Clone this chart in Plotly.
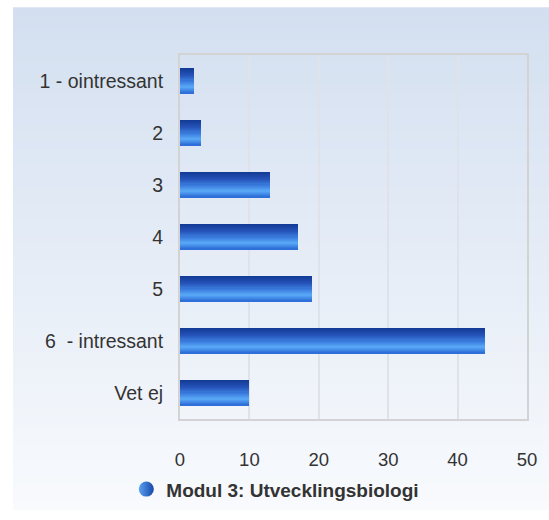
import plotly.graph_objects as go

categories = ["1 - ointressant", "2", "3", "4", "5", "6\u00a0 - intressant", "Vet ej"]
values = [2, 3, 13, 17, 19, 44, 10]
series_name = "Modul 3: Utvecklingsbiologi"
x_ticks = [0, 10, 20, 30, 40, 50]

FONT = "Liberation Sans, Arial, Helvetica, sans-serif"
TEXT = "#333333"


def hex2rgb(h):
    h = h.lstrip("#")
    return tuple(int(h[i:i + 2], 16) for i in (0, 2, 4))


def interp(stops, t):
    for (t0, c0), (t1, c1) in zip(stops, stops[1:]):
        if t0 <= t <= t1:
            f = 0 if t1 == t0 else (t - t0) / (t1 - t0)
            a, b = hex2rgb(c0), hex2rgb(c1)
            return "rgb(%d,%d,%d)" % tuple(round(a[k] + (b[k] - a[k]) * f) for k in range(3))
    return stops[-1][1]


bar_stops = [(0.0, "#123a94"), (0.3, "#2552b8"), (0.55, "#3d82e2"),
             (0.75, "#5aaaf8"), (1.0, "#2a6ad6")]

fig = go.Figure()

w = 0.47
N = 24
# white outline base
fig.add_trace(go.Bar(
    x=values, y=categories, orientation="h", width=w + 0.035,
    marker=dict(color="white", line=dict(width=0), cornerradius=4),
    showlegend=False, hoverinfo="skip"))
for i in range(N):
    t = (i + 0.5) / N
    fig.add_trace(go.Bar(
        x=values, y=categories, orientation="h",
        offset=-w / 2 + i * w / N, width=w / N * 1.05,
        marker=dict(color=interp(bar_stops, t), line=dict(width=0)),
        showlegend=False, hoverinfo="skip"))

# legend entry
fig.add_trace(go.Scatter(
    x=[None], y=[None], mode="markers", name=series_name,
    marker=dict(symbol="circle", size=15, color="#5aa2f2",
                gradient=dict(type="horizontal", color="#1646a8"),
                line=dict(width=0))))

FW, FH = 549, 520
L, R, T, B = 180, 529, 55, 428
W, H = R - L, B - T
bg_stops = [(0.0, "#d3dff0"), (1.0, "#f8fafd")]
top_px, bot_px = 6, 520
n_bg = 64
shapes = []
for k in range(n_bg):
    y0 = top_px + (bot_px - top_px) * k / n_bg
    y1 = top_px + (bot_px - top_px) * (k + 1) / n_bg + 1
    shapes.append(dict(
        type="rect", xref="paper", yref="paper", layer="below",
        x0=(12 - L) / W, x1=(FW + 10 - L) / W,
        y0=(B - min(y1, bot_px + 5)) / H, y1=(B - y0) / H,
        fillcolor=interp(bg_stops, (k + 0.5) / n_bg), line=dict(width=0)))

fig.update_layout(
    width=FW, height=FH,
    margin=dict(l=L, r=FW - R, t=T, b=FH - B),
    paper_bgcolor="white", plot_bgcolor="rgba(0,0,0,0)",
    barmode="overlay", bargap=0,
    shapes=shapes,
    font=dict(family=FONT, color=TEXT, size=19.5),
    showlegend=True,
    legend=dict(orientation="h", x=(126 - L) / W, xanchor="left",
                y=(B - 500) / H, yanchor="middle",
                font=dict(size=19, color=TEXT, weight="bold"),
                bgcolor="rgba(0,0,0,0)"),
    xaxis=dict(range=[0, 50], tickvals=x_ticks, showgrid=True,
               gridcolor="#dfe2e8", gridwidth=1.5, zeroline=False,
               showline=True, linecolor="#d3d3d3", linewidth=2, mirror=True,
               tickfont=dict(size=18.5, color=TEXT), ticklabelstandoff=23,
               fixedrange=True),
    yaxis=dict(categoryorder="array", categoryarray=categories,
               autorange="reversed", showgrid=False, zeroline=False,
               showline=True, linecolor="#d3d3d3", linewidth=2, mirror=True,
               tickfont=dict(size=19.5, color=TEXT), ticklabelstandoff=11,
               fixedrange=True),
)

fig.write_html(
    "out.html",
    config={"displayModeBar": False},
    post_script="document.body.style.margin='0';document.body.style.overflow='hidden';",
)
